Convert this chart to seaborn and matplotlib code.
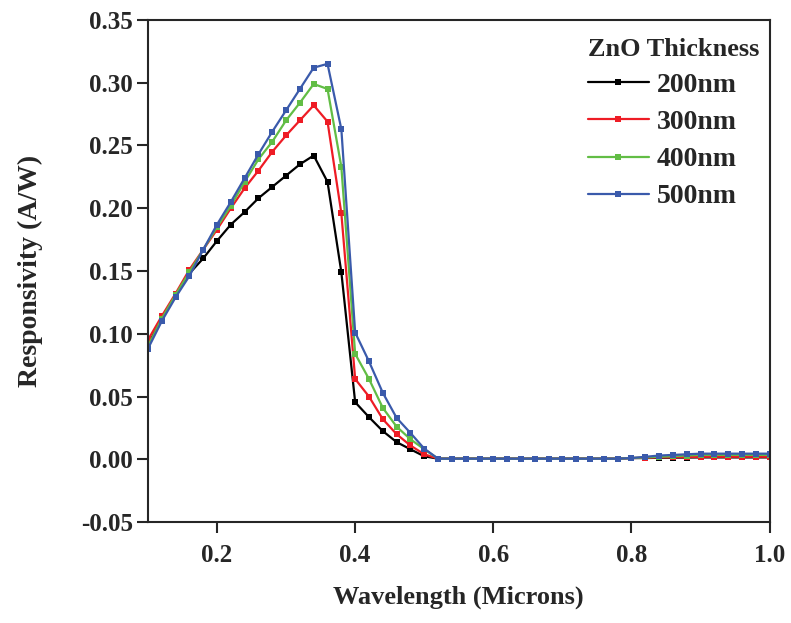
import numpy as np
import pandas as pd
import matplotlib
matplotlib.use("Agg")
import matplotlib.pyplot as plt
import seaborn as sns

wavelength = [round(0.10 + 0.02 * i, 2) for i in range(46)]

tail_flat = [0.0005] * 14  # 0.52 .. 0.78

r200 = [0.091, 0.112, 0.130, 0.148, 0.160, 0.174, 0.187, 0.197, 0.208, 0.217,
        0.226, 0.235, 0.242, 0.221, 0.149, 0.0455, 0.0336, 0.0225, 0.0137, 0.008,
        0.0024] + tail_flat + [0.001, 0.001, 0.0012, 0.0013, 0.0014, 0.0015, 0.0015,
        0.0015, 0.0015, 0.0015, 0.0015]
r300 = [0.095, 0.114, 0.132, 0.151, 0.167, 0.183, 0.200, 0.216, 0.230, 0.245,
        0.258, 0.270, 0.282, 0.269, 0.196, 0.064, 0.050, 0.032, 0.020, 0.011,
        0.004] + tail_flat + [0.001, 0.0012, 0.0015, 0.0017, 0.0018, 0.002, 0.002,
        0.002, 0.002, 0.002, 0.002]
r400 = [0.090, 0.112, 0.131, 0.149, 0.167, 0.185, 0.202, 0.221, 0.239, 0.253,
        0.270, 0.284, 0.299, 0.295, 0.233, 0.084, 0.064, 0.041, 0.026, 0.016,
        0.008] + tail_flat + [0.001, 0.0015, 0.002, 0.0025, 0.003, 0.0035, 0.0035,
        0.0035, 0.0035, 0.0035, 0.0035]
r500 = [0.088, 0.110, 0.129, 0.146, 0.167, 0.187, 0.205, 0.224, 0.243, 0.261,
        0.278, 0.295, 0.312, 0.315, 0.263, 0.101, 0.078, 0.053, 0.033, 0.021,
        0.0085] + tail_flat + [0.001, 0.002, 0.003, 0.0035, 0.004, 0.0045, 0.0045,
        0.0045, 0.0045, 0.0045, 0.0045]

series_names = ["200nm", "300nm", "400nm", "500nm"]
series_values = [r200, r300, r400, r500]
colors = ["#000000", "#ee1c25", "#62bd45", "#3a5aab"]

x_ticks = [0.2, 0.4, 0.6, 0.8, 1.0]
y_ticks = [-0.05, 0.00, 0.05, 0.10, 0.15, 0.20, 0.25, 0.30, 0.35]

rows = []
for name, vals in zip(series_names, series_values):
    for w, v in zip(wavelength, vals):
        rows.append({"Wavelength": w, "Responsivity": v, "Thickness": name})
df = pd.DataFrame(rows)

sns.set_style("ticks")
plt.rcParams["font.family"] = ["Liberation Serif", "DejaVu Serif"]
plt.rcParams["font.weight"] = "bold"

fig = plt.figure(figsize=(7.91, 6.23), dpi=100)
ax = fig.add_axes([0.187, 0.162, 0.786, 0.806])

sns.lineplot(data=df, x="Wavelength", y="Responsivity", hue="Thickness",
             hue_order=series_names, palette=colors, style="Thickness",
             markers=["s"] * 4, dashes=False, markersize=4.5, linewidth=1.6,
             markeredgewidth=0, ax=ax)

ax.set_xlim(0.1, 1.0)
ax.set_ylim(-0.05, 0.35)
ax.set_xticks(x_ticks)
ax.set_xticklabels([f"{t:.1f}" for t in x_ticks])
ax.set_yticks(y_ticks)
ax.set_yticklabels([f"{t:.2f}" for t in y_ticks])
ax.tick_params(axis="both", direction="out", length=8, width=1.5, labelsize=18)
ax.tick_params(axis="x", pad=8)
ax.tick_params(axis="y", pad=3)
for lbl in ax.get_xticklabels() + ax.get_yticklabels():
    lbl.set_fontweight("bold")
for s in ax.spines.values():
    s.set_visible(True)
    s.set_linewidth(1.5)

ax.set_xlabel("Wavelength (Microns)", fontsize=19, fontweight="bold", labelpad=13)
ax.set_ylabel("Responsivity (A/W)", fontsize=20, fontweight="bold", labelpad=27)

leg = ax.legend(title="ZnO Thickness", frameon=False, loc="upper right",
                bbox_to_anchor=(1.012, 1.0), fontsize=20, handlelength=2.2,
                labelspacing=0.42, handletextpad=0.3, borderaxespad=0.25)
leg.get_title().set_fontweight("bold")
leg.get_title().set_fontsize(19)
for t in leg.get_texts():
    t.set_fontweight("bold")
leg._legend_box.align = "left"

fig.savefig("out.png", dpi=100, facecolor="white")
